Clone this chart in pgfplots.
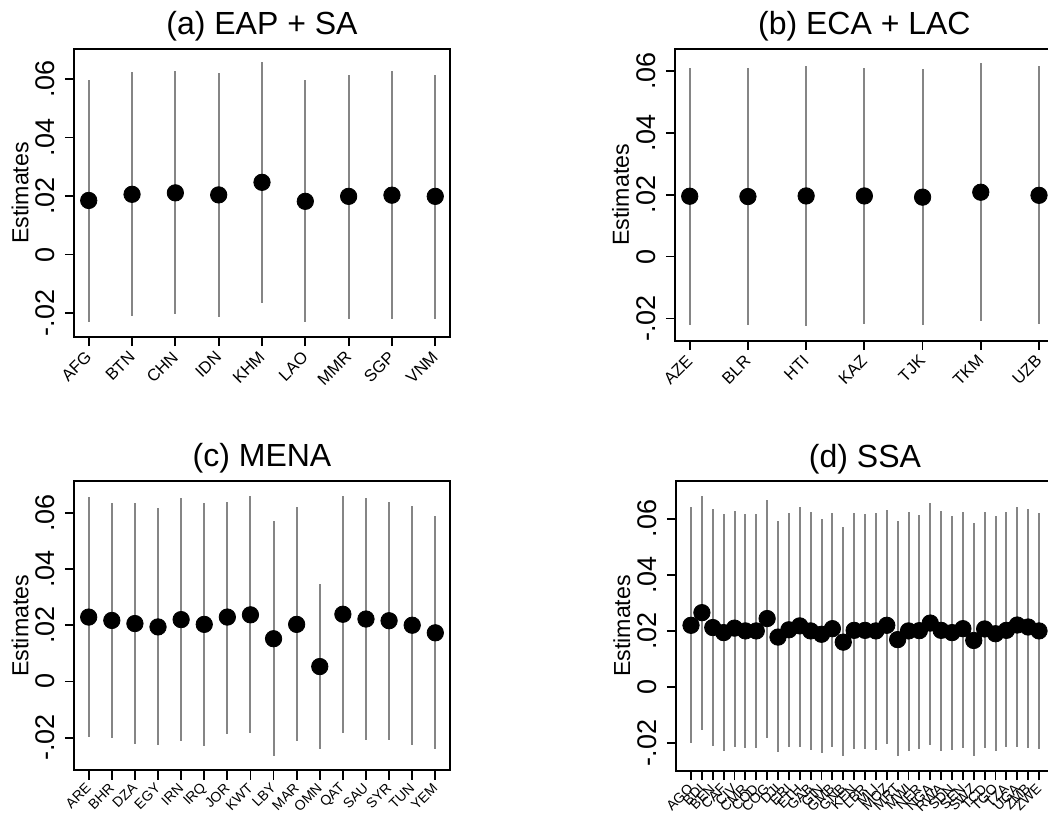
\documentclass[border=0pt]{standalone}
\usepackage{pgfplots}
\usepackage{pgfplotstable}
\pgfplotsset{compat=1.18}
\usepackage{fontspec}
\setmainfont{Liberation Sans}

% estimates with 95% bounds
\pgfplotstableread{
i est lo hi
0 0.0185 -0.0231 0.0598
1 0.0206 -0.0211 0.0625
2 0.0211 -0.0203 0.0627
3 0.0204 -0.0214 0.0621
4 0.0247 -0.0165 0.0658
5 0.0182 -0.0231 0.0597
6 0.0199 -0.0219 0.0614
7 0.0203 -0.0222 0.0629
8 0.0199 -0.0219 0.0614
}\eap
\pgfplotstableread{
i est lo hi
0 0.0195 -0.0220 0.0611
1 0.0194 -0.0220 0.0609
2 0.0196 -0.0224 0.0616
3 0.0196 -0.0218 0.0610
4 0.0192 -0.0222 0.0606
5 0.0208 -0.0208 0.0625
6 0.0198 -0.0217 0.0615
}\eca
\pgfplotstableread{
i est lo hi
0 0.0229 -0.0196 0.0655
1 0.0217 -0.0201 0.0633
2 0.0206 -0.0222 0.0633
3 0.0194 -0.0226 0.0617
4 0.0220 -0.0211 0.0652
5 0.0203 -0.0231 0.0636
6 0.0229 -0.0186 0.0640
7 0.0237 -0.0184 0.0659
8 0.0152 -0.0264 0.0571
9 0.0203 -0.0213 0.0620
10 0.0053 -0.0239 0.0346
11 0.0239 -0.0183 0.0660
12 0.0222 -0.0209 0.0654
13 0.0216 -0.0209 0.0640
14 0.0200 -0.0225 0.0625
15 0.0173 -0.0239 0.0587
}\mena
\pgfplotstableread{
i est lo hi
0 0.0220 -0.0200 0.0642
1 0.0265 -0.0152 0.0681
2 0.0212 -0.0210 0.0634
3 0.0194 -0.0226 0.0615
4 0.0210 -0.0214 0.0626
5 0.0200 -0.0216 0.0618
6 0.0200 -0.0216 0.0618
7 0.0244 -0.0182 0.0666
8 0.0178 -0.0233 0.0591
9 0.0204 -0.0214 0.0619
10 0.0218 -0.0214 0.0642
11 0.0200 -0.0225 0.0622
12 0.0188 -0.0234 0.0598
13 0.0208 -0.0214 0.0620
14 0.0160 -0.0247 0.0569
15 0.0202 -0.0221 0.0619
16 0.0202 -0.0220 0.0618
17 0.0200 -0.0223 0.0619
18 0.0220 -0.0204 0.0632
19 0.0169 -0.0244 0.0590
20 0.0200 -0.0228 0.0623
21 0.0201 -0.0220 0.0613
22 0.0228 -0.0207 0.0655
23 0.0202 -0.0226 0.0626
24 0.0194 -0.0223 0.0610
25 0.0208 -0.0216 0.0622
26 0.0166 -0.0245 0.0586
27 0.0207 -0.0216 0.0624
28 0.0190 -0.0226 0.0610
29 0.0202 -0.0214 0.0623
30 0.0221 -0.0214 0.0641
31 0.0214 -0.0216 0.0634
32 0.0200 -0.0222 0.0619
}\ssa

\pgfplotsset{
  panel/.style={
    scale only axis, anchor=south west,
    axis line style={line width=0.9pt},
    tick style={line width=0.9pt, black},
    major tick length=4.6pt, tick align=outside,
    xtick pos=bottom, ytick pos=left,
    xtick=data, scaled y ticks=false,
    ytick={-0.02,0,0.02,0.04,0.06},
    yticklabels={-.02,0,.02,.04,.06},
    yticklabel style={rotate=90, anchor=base, inner sep=0pt, font=\fontsize{13.5}{15}\selectfont},
    yticklabel shift=5pt,
    xticklabel style={rotate=45, anchor=east, inner sep=0pt},
    xticklabel shift=4pt,
    ylabel={Estimates},
    ylabel style={at={(axis description cs:-0.1436,0.5)}, anchor=center, font=\fontsize{11.6}{13}\selectfont},
    title style={at={(axis description cs:0.5,1)}, anchor=base, yshift=1pt, font=\fontsize{16}{18}\selectfont},
  },
  ci/.style={draw=none, mark=none, forget plot,
    error bars/.cd, y dir=both, y explicit, error mark=none,
    error bar style={draw=black!48, line width=1pt}},
  dot/.style={only marks, mark=*, mark size=4.1pt, draw=black, fill=black},
}

\begin{document}
\begin{tikzpicture}
\begin{axis}[panel, at={(37pt,238.5pt)}, width=188pt, height=144pt,
  xmin=-0.34, xmax=8.34, ymin=-0.0282, ymax=0.0703,
  title={(a) EAP + SA},
  xticklabels={AFG,BTN,CHN,IDN,KHM,LAO,MMR,SGP,VNM},
  xticklabel style={font=\fontsize{8.3}{9}\selectfont}]
\addplot[ci] table[x=i, y=est, y error plus expr=\thisrow{hi}-\thisrow{est}, y error minus expr=\thisrow{est}-\thisrow{lo}] {\eap};
\addplot[dot] table[x=i, y=est] {\eap};
\end{axis}

\begin{axis}[panel, at={(337.5pt,236.65pt)}, width=189.35pt, height=145.85pt,
  xmin=-0.2526, xmax=6.2526, ymin=-0.0272, ymax=0.0671,
  title={(b) ECA + LAC},
  xticklabels={AZE,BLR,HTI,KAZ,TJK,TKM,UZB},
  xticklabel style={font=\fontsize{8.3}{9}\selectfont}]
\addplot[ci] table[x=i, y=est, y error plus expr=\thisrow{hi}-\thisrow{est}, y error minus expr=\thisrow{est}-\thisrow{lo}] {\eca};
\addplot[dot] table[x=i, y=est] {\eca};
\end{axis}

\begin{axis}[panel, at={(37pt,21.85pt)}, width=188pt, height=144.65pt,
  xmin=-0.636, xmax=15.636, ymin=-0.0316, ymax=0.0713,
  title={(c) MENA},
  xticklabels={ARE,BHR,DZA,EGY,IRN,IRQ,JOR,KWT,LBY,MAR,OMN,QAT,SAU,SYR,TUN,YEM},
  xticklabel shift=3pt,
  xticklabel style={font=\fontsize{7}{8}\selectfont}]
\addplot[ci] table[x=i, y=est, y error plus expr=\thisrow{hi}-\thisrow{est}, y error minus expr=\thisrow{est}-\thisrow{lo}] {\mena};
\addplot[dot] table[x=i, y=est] {\mena};
\end{axis}

\begin{axis}[panel, at={(338pt,21.5pt)}, width=189pt, height=145pt,
  xmin=-1.38, xmax=33.38, ymin=-0.0299, ymax=0.0734,
  title={(d) SSA},
  xticklabels={AGO,BDI,BEN,CAF,CIV,CMR,COD,COG,DJI,ERI,ETH,GAB,GIN,GMB,GNB,KEN,LBR,MLI,MOZ,MRT,MWI,NER,NGA,RWA,SDN,SEN,SWZ,TCD,TGO,TZA,UGA,ZMB,ZWE},
  xticklabel shift=3pt,
  xticklabel style={font=\fontsize{7}{8}\selectfont}]
\addplot[ci] table[x=i, y=est, y error plus expr=\thisrow{hi}-\thisrow{est}, y error minus expr=\thisrow{est}-\thisrow{lo}] {\ssa};
\addplot[dot] table[x=i, y=est] {\ssa};
\end{axis}

\pgfresetboundingbox
\path[use as bounding box] (0,0) rectangle (524pt,407pt);
\end{tikzpicture}
\end{document}
